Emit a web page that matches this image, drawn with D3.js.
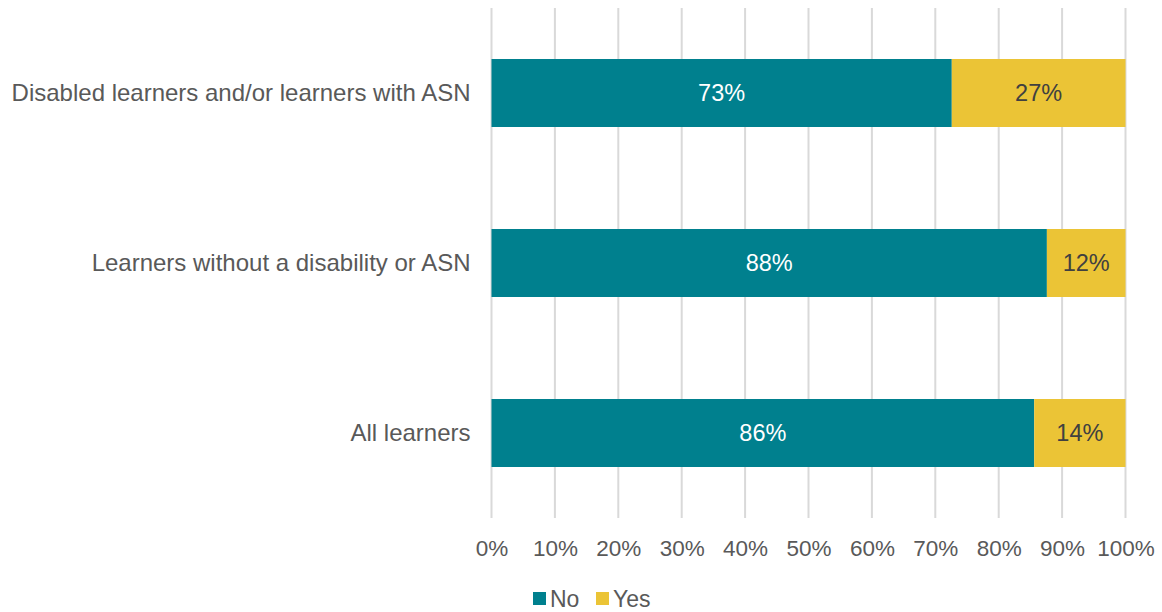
<!DOCTYPE html>
<html>
<head>
<meta charset="utf-8">
<script src="https://cdn.jsdelivr.net/npm/d3@7"></script>
<style>
  body { margin: 0; background: #fff; }
  svg { font-family: "Liberation Sans", Arial, sans-serif; }
</style>
</head>
<body>
<svg id="chart" width="1162" height="612"></svg>
<script>
// chart data
const categories = ["Disabled learners and/or learners with ASN", "Learners without a disability or ASN", "All learners"];
const seriesNames = ["No", "Yes"];
const noValues = [72.6, 87.6, 85.6];
const yesValues = [27.4, 12.4, 14.4];
const tickValues = [0, 10, 20, 30, 40, 50, 60, 70, 80, 90, 100];

const colors = { No: "#00808e", Yes: "#ebc436" };
const textColors = { No: "#ffffff", Yes: "#404040" };

const rows = categories.map((c, i) => ({ cat: c, No: noValues[i], Yes: yesValues[i] }));

const svg = d3.select("#chart");
const margin = { left: 491.5, right: 36.5, top: 8, bottom: 94 };
const width = 1162, height = 612;

const x = d3.scaleLinear().domain([0, 100]).range([margin.left, width - margin.right]);
const y = d3.scaleBand().domain(categories)
  .range([margin.top, height - margin.bottom])
  .paddingInner(0.6).paddingOuter(0.3);

// gridlines
svg.append("g").selectAll("line").data(tickValues).enter().append("line")
  .attr("x1", d => x(d)).attr("x2", d => x(d))
  .attr("y1", margin.top).attr("y2", height - margin.bottom)
  .attr("stroke", "#d9d9d9").attr("stroke-width", 2);

// x axis labels
const xAxis = d3.axisBottom(x).tickValues(tickValues).tickFormat(d => d + "%").tickSize(0).tickPadding(22);
const gx = svg.append("g").attr("transform", `translate(0,${height - margin.bottom})`).call(xAxis);
gx.select(".domain").remove();
gx.selectAll("text").attr("font-size", 22.5).attr("fill", "#595959").attr("font-family", "Liberation Sans, Arial, sans-serif");

// y axis labels
const yAxis = d3.axisLeft(y).tickSize(0).tickPadding(21);
const gy = svg.append("g").attr("transform", `translate(${margin.left},0)`).call(yAxis);
gy.select(".domain").remove();
gy.selectAll("text").attr("font-size", 24).attr("fill", "#595959").attr("font-family", "Liberation Sans, Arial, sans-serif");

// stacked bars
const stack = d3.stack().keys(seriesNames);
const layers = stack(rows);

const layer = svg.append("g").selectAll("g").data(layers).enter().append("g")
  .attr("fill", d => colors[d.key]);

layer.selectAll("rect").data(d => d).enter().append("rect")
  .attr("x", d => x(d[0]))
  .attr("y", d => y(d.data.cat))
  .attr("width", d => x(d[1]) - x(d[0]))
  .attr("height", y.bandwidth());

// value labels
layer.each(function(L) {
  d3.select(this).selectAll("text").data(L).enter().append("text")
    .attr("x", d => (x(d[0]) + x(d[1])) / 2)
    .attr("y", d => y(d.data.cat) + y.bandwidth() / 2)
    .attr("dy", "0.35em")
    .attr("text-anchor", "middle")
    .attr("font-size", 23.5)
    .attr("fill", textColors[L.key])
    .text(d => Math.round(d[1] - d[0]) + "%");
});

// legend
const legend = svg.append("g").attr("transform", "translate(533,592)");
const items = [{ k: "No", dx: 0 }, { k: "Yes", dx: 63 }];
const li = legend.selectAll("g").data(items).enter().append("g")
  .attr("transform", d => `translate(${d.dx},0)`);
li.append("rect").attr("width", 13).attr("height", 13).attr("fill", d => colors[d.k]);
li.append("text").attr("x", 17).attr("y", 14.5)
  .attr("font-size", 23).attr("fill", "#595959")
  .text(d => d.k);
</script>
</body>
</html>
